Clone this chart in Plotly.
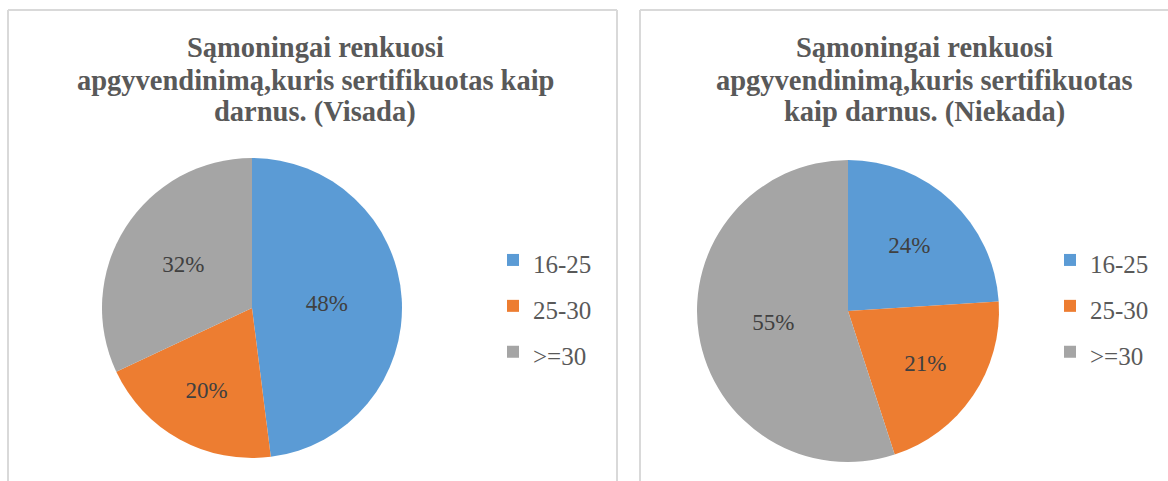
import plotly.graph_objects as go

categories = ["16-25", "25-30", ">=30"]
visada_values = [48, 20, 32]
niekada_values = [24, 21, 55]
title_left_lines = ["Sąmoningai renkuosi", "apgyvendinimą,kuris sertifikuotas kaip", "darnus. (Visada)"]
title_right_lines = ["Sąmoningai renkuosi", "apgyvendinimą,kuris sertifikuotas", "kaip darnus. (Niekada)"]
colors = ["#5B9BD5", "#ED7D31", "#A5A5A5"]

W, H = 1168, 481
SERIF = "Liberation Serif, Times New Roman, serif"

def px(x):
    return x / W

def py(y):
    return 1 - y / H

# distinct label strings per chart so each pie keeps its own legend
labels_left = [f"<span style='font-size:25px'>{c}</span>" for c in categories]
labels_right = [f"<span style='font-size:25px;'>{c}</span>" for c in categories]

fig = go.Figure()
fig.add_trace(go.Pie(
    labels=labels_left, values=visada_values, sort=False, direction="clockwise", rotation=0,
    marker=dict(colors=colors, line=dict(width=0)),
    texttemplate="%{percent:.0%}", textposition="inside", insidetextorientation="horizontal",
    textfont=dict(family=SERIF, size=23, color="#404040"),
    domain=dict(x=[px(102), px(402)], y=[py(458), py(158)]),
    legend="legend", hoverinfo="skip",
))
fig.add_trace(go.Pie(
    labels=labels_right, values=niekada_values, sort=False, direction="clockwise", rotation=0,
    marker=dict(colors=colors, line=dict(width=0)),
    texttemplate="%{percent:.0%}", textposition="inside", insidetextorientation="horizontal",
    textfont=dict(family=SERIF, size=23, color="#404040"),
    domain=dict(x=[px(697), px(999)], y=[py(462), py(160)]),
    legend="legend2", hoverinfo="skip",
))

legend_common = dict(font=dict(family=SERIF, size=33, color="#595959"),
                     bgcolor="rgba(0,0,0,0)", yanchor="middle", xanchor="left",
                     traceorder="normal", itemclick=False, itemdoubleclick=False)
fig.update_layout(
    legend=dict(x=px(493), y=py(306), **legend_common),
    legend2=dict(x=px(1050), y=py(306), **legend_common),
)

shapes = []
line_style = dict(color="#D9D9D9", width=2)
# left panel border
shapes.append(dict(type="line", xref="paper", yref="paper", x0=px(8), x1=px(617), y0=py(10), y1=py(10), line=line_style))
shapes.append(dict(type="line", xref="paper", yref="paper", x0=px(8), x1=px(8), y0=py(10), y1=py(490), line=line_style))
shapes.append(dict(type="line", xref="paper", yref="paper", x0=px(617), x1=px(617), y0=py(10), y1=py(490), line=line_style))
# right panel border
shapes.append(dict(type="line", xref="paper", yref="paper", x0=px(640), x1=px(1180), y0=py(10), y1=py(10), line=line_style))
shapes.append(dict(type="line", xref="paper", yref="paper", x0=px(640), x1=px(640), y0=py(10), y1=py(490), line=line_style))

annotations = []
line_ys = [47, 80, 112]
for lines, cx in ((title_left_lines, 315), (title_right_lines, 924)):
    for txt, ly in zip(lines, line_ys):
        annotations.append(dict(text=f"<b>{txt}</b>", x=px(cx), y=py(ly), xref="paper", yref="paper",
                                xanchor="center", yanchor="middle", showarrow=False,
                                font=dict(family=SERIF, size=28.5, color="#595959")))

fig.update_layout(
    width=W, height=H, margin=dict(l=0, r=0, t=0, b=0),
    paper_bgcolor="white", plot_bgcolor="white",
    shapes=shapes, annotations=annotations,
)

fig.write_html("out.html", config={"displayModeBar": False},
               post_script="document.body.style.margin='0';")
